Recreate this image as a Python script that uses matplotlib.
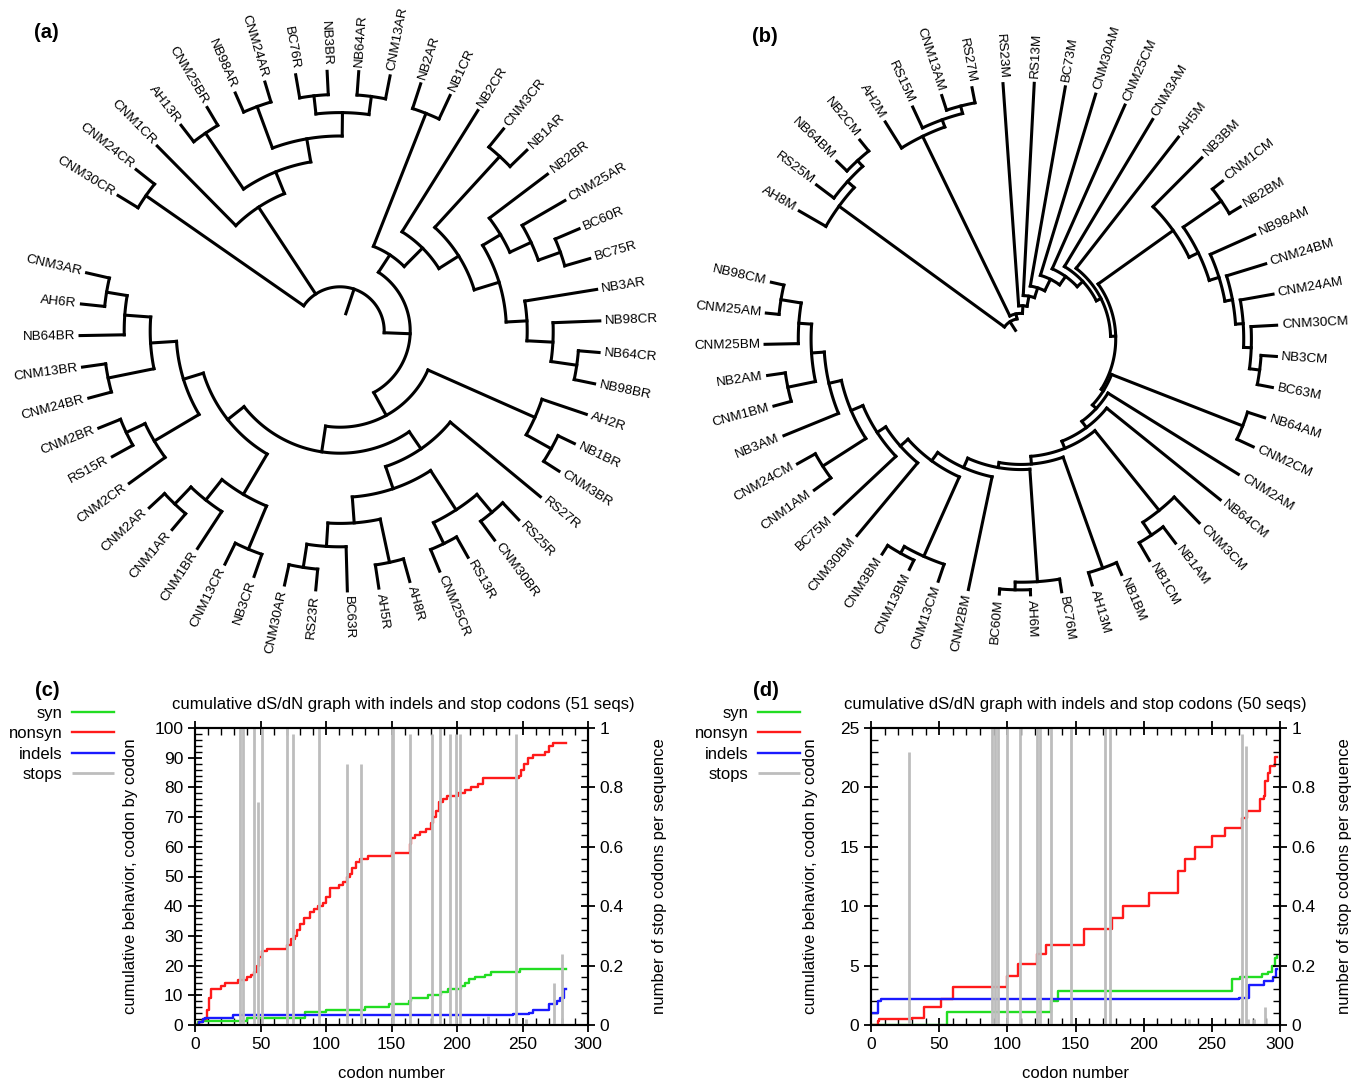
import numpy as np
import matplotlib
matplotlib.use("Agg")
import matplotlib.pyplot as plt
from matplotlib.ticker import MultipleLocator, FuncFormatter

plt.rcParams['font.family'] = ['Liberation Sans', 'DejaVu Sans']

# ---------------- data: tree (a) (node = (radius, [children]); leaves are names) ----------
A_X4 = (0.84, [(0.91, ["BC76R", "NB3BR"]), (0.91, ["NB64AR", "CNM13AR"])])
A_X3 = (0.75, [(0.92, ["NB98AR", "CNM24AR"]), A_X4])
A_X2 = (0.66, [(0.92, ["AH13R", "CNM25BR"]), A_X3])
A_X1 = (0.57, ["CNM1CR", A_X2])

A_Z7 = (0.81, ["CNM25AR", (0.90, ["BC60R", "BC75R"])])
A_Z5 = (0.72, ["NB2BR", A_Z7])
A_Z9 = (0.82, ["NB98CR", (0.92, ["NB64CR", "NB98BR"])])
A_Z6 = (0.72, ["NB3AR", A_Z9])
A_Z4 = (0.64, [A_Z5, A_Z6])
A_Z3 = (0.54, [(0.91, ["CNM3CR", "NB1AR"]), A_Z4])
A_Z2 = (0.45, ["NB2CR", A_Z3])
A_Z1 = (0.35, [(0.90, ["NB2AR", "NB1CR"]), A_Z2])

A_Q3 = (0.82, [(0.91, ["RS25R", "CNM30BR"]), (0.91, ["RS13R", "CNM25CR"])])
A_Q5 = (0.83, ["BC63R", (0.92, ["RS23R", "CNM30AR"])])
A_Q4 = (0.74, [(0.91, ["AH8R", "AH5R"]), A_Q5])
A_Q2 = (0.64, [A_Q3, A_Q4])
A_Q = (0.55, ["RS27R", A_Q2])

A_L1 = (0.73, [(0.91, ["NB3CR", "CNM13CR"]), (0.83, ["CNM1BR", (0.92, ["CNM1AR", "CNM2AR"])])])
A_L4 = (0.83, ["CNM2CR", (0.91, ["RS15R", "CNM2BR"])])
A_L6 = (0.83, ["NB64BR", (0.91, ["AH6R", "CNM3AR"])])
A_L5 = (0.73, [(0.91, ["CNM24BR", "CNM13BR"]), A_L6])
A_L3 = (0.63, [A_L4, A_L5])
A_L = (0.55, [A_L1, A_L3])
A_V = (0.47, [A_Q, A_L])
A_W = (0.37, [(0.82, ["AH2R", (0.93, ["NB1BR", "CNM3BR"])]), A_V])
A_Y = (0.27, [A_Z1, A_W])
TREE_A = (0.17, [(0.91, ["CNM30CR", "CNM24CR"]), A_X1, A_Y])
ROOT_EDGE_A = 0.07

# ---------------- data: tree (b), a ladder of side clades --------------------------------
B_R6 = (0.90, ["CNM30CM", (0.94, ["NB3CM", "BC63M"])])
B_R5 = (0.87, ["CNM24AM", B_R6])
B_R4 = (0.84, ["CNM24BM", B_R5])
B_R3 = (0.81, ["NB98AM", B_R4])
B_R2 = (0.77, [(0.95, ["CNM1CM", "NB2BM"]), B_R3])
B_R = (0.73, ["NB3BM", B_R2])
B_SIDES = [
    (0.88, ["AH8M", (0.915, ["RS25M", (0.945, ["NB64BM", "NB2CM"])])]),
    (0.88, ["AH2M", (0.91, ["RS15M", (0.94, ["CNM13AM", "RS27M"])])]),
    "RS23M", "RS13M", "BC73M", "CNM30AM", "CNM25CM", "CNM3AM", "AH5M",
    B_R,
    (0.93, ["NB64AM", "CNM2CM"]),
    "CNM2AM", "NB64CM",
    (0.86, ["CNM3CM", (0.92, ["NB1AM", "NB1CM"])]),
    (0.95, ["NB1BM", "AH13M"]),
    (0.95, ["BC76M", (0.98, ["AH6M", "BC60M"])]),
    "CNM2BM",
    (0.93, ["CNM13CM", (0.96, ["CNM13BM", "CNM3BM"])]),
    "CNM30BM", "BC75M",
    (0.92, ["CNM1AM", "CNM24CM"]),
    "NB3AM",
    (0.93, ["CNM1BM", "NB2AM"]),
    "CNM25BM",
    (0.95, ["CNM25AM", "NB98CM"]),
]
B_LADDER_R = [0.08, 0.10, 0.13, 0.17, 0.21, 0.26, 0.30, 0.33, 0.35, 0.37, 0.38, 0.40,
              0.43, 0.46, 0.49, 0.51, 0.55, 0.59, 0.63, 0.67, 0.72, 0.77, 0.82, 0.87]
ROOT_EDGE_B = 0.04

# ---------------- data: panel (c) (51 seqs) ---------------------------------------------
C_NONSYN_X = [0, 3, 6, 9, 11, 12, 20, 23, 33, 40, 43, 45, 47, 49, 51, 55, 70, 73, 76, 78,
              80, 83, 88, 91, 94, 98, 100, 103, 110, 113, 116, 118, 120, 123, 126, 132, 150,
              164, 165, 168, 172, 176, 180, 182, 184, 186, 189, 192, 201, 206, 211, 216, 220,
              247, 249, 251, 254, 258, 267, 270, 273, 283]
C_NONSYN_Y = [0, 1, 2, 5, 9, 12, 13, 14, 15, 16, 17, 18, 20, 23, 25, 25.5, 27, 29, 30, 32,
              34, 36, 38, 39, 40, 41, 43, 46, 47, 48, 50, 51, 53, 55, 56, 57, 58,
              61, 63, 64, 65, 66, 68, 70, 72, 75, 76, 77, 78, 79, 80, 81, 83,
              84, 86, 88, 90, 91, 92, 94, 95, 95]
C_SYN_X = [0, 2, 5, 40, 84, 100, 130, 148, 163, 165, 178, 188, 193, 203, 206, 209, 214, 221,
           226, 248, 283]
C_SYN_Y = [0, 1, 1.5, 2.2, 4.5, 5, 6, 7, 8, 9, 10, 11, 12, 13, 14, 15.5, 16, 17,
           17.7, 18.7, 18.7]
C_INDEL_X = [0, 3, 6, 8, 29, 200, 235, 243, 255, 258, 270, 276, 279, 282, 283]
C_INDEL_Y = [0, 1, 2, 2.3, 3.3, 3.3, 3.5, 3.8, 4, 5, 7, 8, 9, 12, 12]
C_STOP_X = [34, 37, 45, 48, 51, 70, 75, 95, 116, 127, 150, 151, 164, 181, 187, 195, 199,
            202, 224, 245, 253, 274, 280]
C_STOP_H = [1.0, 1.0, 1.0, 0.75, 1.0, 1.0, 0.98, 1.0, 0.88, 0.88, 1.0, 1.0, 0.98, 0.98, 1.0,
            0.98, 0.98, 0.98, 0.03, 0.98, 0.02, 0.14, 0.24]

# ---------------- data: panel (d) (50 seqs) ---------------------------------------------
D_NONSYN_X = [0, 5, 6, 30, 39, 51, 60, 100, 108, 122, 128, 156, 177, 185, 204, 225, 230,
              238, 250, 260, 272, 276, 285, 288, 289, 291, 293, 296, 298]
D_NONSYN_Y = [0, 0.3, 0.5, 0.6, 1.5, 2.2, 3.2, 4.1, 5.1, 6.0, 6.7, 8.1, 9.0, 10.0, 11.1,
              13.0, 14.0, 15.0, 15.9, 16.6, 17.4, 18.0, 19.0, 19.3, 20.5, 21.2, 21.8, 22.6,
              22.6]
D_SYN_X = [0, 56, 132, 137, 265, 271, 287, 291, 294, 296, 298]
D_SYN_Y = [0, 1.1, 2.0, 2.9, 3.9, 4.0, 4.3, 4.5, 5.0, 5.6, 5.8]
D_INDEL_X = [0, 5, 7, 150, 270, 277, 288, 295, 297, 298]
D_INDEL_Y = [1.0, 2.0, 2.15, 2.2, 2.3, 3.4, 3.7, 4.0, 4.7, 4.7]
D_STOP_X = [28, 89, 91, 93, 99.5, 109, 122, 124, 132, 147, 171.5, 175, 233, 272, 275,
            276.5, 281, 289]
D_STOP_H = [0.92, 1.0, 1.0, 1.0, 1.0, 1.0, 1.0, 1.0, 1.0, 1.0, 1.0, 1.0, 0.02, 0.98, 0.94,
            0.02, 0.02, 0.06]

SERIES_NAMES = ["syn", "nonsyn", "indels", "stops"]
SERIES_COLORS = ["#22dd22", "#ff1a1a", "#1a1aff", "#bdbdbd"]

# ---------------------------------------------------------------------------------------
W, H = 1357, 1084
fig = plt.figure(figsize=(W / 100, H / 100), dpi=100)
fig.patch.set_facecolor("white")


def px_axes(left, top, width, height, **kw):
    return fig.add_axes([left / W, 1 - (top + height) / H, width / W, height / H], **kw)


def leaves_of(node):
    if isinstance(node, str):
        return [node]
    return [l for c in node[1] for l in leaves_of(c)]


def build_ladder(sides, radii):
    node = (radii[-1], [sides[-2], sides[-1]])
    for s, r in zip(reversed(sides[:-2]), reversed(radii[:-1])):
        node = (r, [s, node])
    return node


def draw_tree(center, tip_px, tree, start_deg, step_deg, root_edge, fs=9.7):
    rmax = 1.35
    size = 2 * rmax * tip_px
    ax = px_axes(center[0] - size / 2, center[1] - size / 2, size, size, projection="polar")
    names = leaves_of(tree)
    ang = {n: np.deg2rad(start_deg - i * step_deg) for i, n in enumerate(names)}
    kw = dict(color="black", lw=2.2, solid_capstyle="projecting", clip_on=False)

    def rec(node):
        if isinstance(node, str):
            return ang[node], 1.0
        r, ch = node
        res = [rec(c) for c in ch]
        a0, a1 = res[0][0], res[-1][0]
        th = np.linspace(a0, a1, 90)
        ax.plot(th, np.full(th.shape, r), **kw)
        for a, rc in res:
            ax.plot([a, a], [r, rc], **kw)
        return (a0 + a1) / 2, r

    a_root, r_root = rec(tree)
    ax.plot([a_root, a_root], [root_edge, r_root], **kw)
    for n, a in ang.items():
        d = (np.rad2deg(a) + 180) % 360 - 180
        if -90 < d <= 90:
            rot, ha = d, "left"
        else:
            rot, ha = (d - 180 if d > 0 else d + 180), "right"
        ax.text(a, 1.02, n, rotation=rot, rotation_mode="anchor", ha=ha, va="center",
                fontsize=fs)
    ax.set_ylim(0, rmax)
    ax.set_axis_off()
    return ax


draw_tree((340, 331), 260, TREE_A, 148.6, 6.97, ROOT_EDGE_A)
draw_tree((1021, 339), 256, build_ladder(B_SIDES, B_LADDER_R), 150.0, 6.996, ROOT_EDGE_B)

for lab, x, y in [("(a)", 46, 33), ("(b)", 765, 37), ("(c)", 47, 690), ("(d)", 766, 690)]:
    fig.text(x / W, 1 - y / H, lab, fontsize=14.5, fontweight="bold", ha="center", va="center")


def cum_panel(left, right, ymax, ymaj, ymin, nseq, series, stops, leg_right, ylab_x, y2lab_x,
              title_x):
    top, bottom = 728, 1025
    ax = px_axes(left, top, right - left, bottom - top)
    ax2 = ax.twinx()
    handles = []
    for (xs, ys), c in zip(series, SERIES_COLORS[:3]):
        ln, = ax.plot(xs, ys, drawstyle="steps-post", color=c, lw=1.7)
        handles.append(ln)
    sx, sh = stops
    vl = ax2.vlines(sx, 0, sh, color=SERIES_COLORS[3], lw=2.0)
    handles.append(vl)
    ax.set_xlim(0, 300)
    ax.set_ylim(0, ymax)
    ax2.set_ylim(0, 1)
    ax.xaxis.set_major_locator(MultipleLocator(50))
    ax.xaxis.set_minor_locator(MultipleLocator(10))
    ax.yaxis.set_major_locator(MultipleLocator(ymaj))
    ax.yaxis.set_minor_locator(MultipleLocator(ymin))
    ax2.yaxis.set_major_locator(MultipleLocator(0.2))
    ax2.yaxis.set_minor_locator(MultipleLocator(0.04))
    ax2.yaxis.set_major_formatter(FuncFormatter(lambda v, p: f"{v:g}"))
    for a in (ax, ax2):
        for s in a.spines.values():
            s.set_linewidth(1.5)
    ax.tick_params(which="major", direction="inout", length=10, width=1.3, top=True,
                   right=False, labelsize=12.5)
    ax.tick_params(which="minor", direction="in", length=5, width=1.0, top=True, right=False)
    ax2.tick_params(which="major", direction="inout", length=10, width=1.3, labelsize=12.5)
    ax2.tick_params(which="minor", direction="in", length=5, width=1.0)
    ax.set_xlabel("codon number", fontsize=12, labelpad=10)
    ax.set_ylabel("cumulative behavior, codon by codon", fontsize=12)
    ax2.set_ylabel("number of stop codons per sequence", fontsize=12)
    w = right - left
    ax.yaxis.set_label_coords((ylab_x - left) / w, 0.5)
    ax2.yaxis.set_label_coords((y2lab_x - left) / w, 0.5)
    ax.set_title(f"cumulative dS/dN graph with indels and stop codons ({nseq} seqs)",
                 fontsize=12, x=(title_x - left) / w, pad=14)
    ax.legend(handles, SERIES_NAMES, loc="upper right",
              bbox_to_anchor=(leg_right / W, 1 - 706 / H), bbox_transform=fig.transFigure,
              frameon=False, markerfirst=False, handlelength=2.5, handletextpad=0.6,
              labelspacing=0.32, borderpad=0, borderaxespad=0, fontsize=12)
    ax.set_zorder(1)
    ax2.set_zorder(2)
    ax2.patch.set_visible(False)
    return ax


c_series = [(C_SYN_X, C_SYN_Y), (C_NONSYN_X, C_NONSYN_Y), (C_INDEL_X, C_INDEL_Y)]
d_series = [(D_SYN_X, D_SYN_Y), (D_NONSYN_X, D_NONSYN_Y), (D_INDEL_X, D_INDEL_Y)]
cum_panel(195, 588, 100, 10, 2, 51, c_series, (C_STOP_X, C_STOP_H), 114, 138, 652, 403)
cum_panel(871, 1280, 25, 5, 1, 50, d_series, (D_STOP_X, D_STOP_H), 800, 818, 1337, 1075)

fig.savefig("out.png", dpi=100, facecolor="white")
